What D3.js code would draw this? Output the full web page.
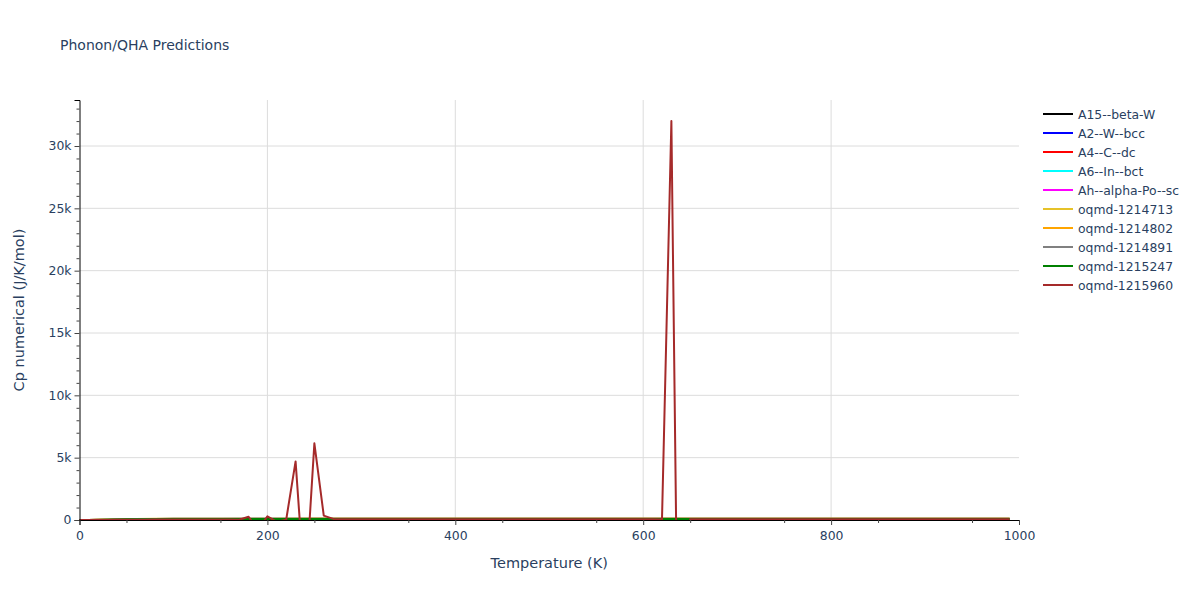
<!DOCTYPE html>
<html>
<head>
<meta charset="utf-8">
<script src="https://cdn.jsdelivr.net/npm/d3@7"></script>
<style>
  body { margin: 0; background: #fff; }
  text { font-family: "DejaVu Sans", verdana, arial, sans-serif; }
</style>
</head>
<body>
<div id="chart"></div>
<script>
// temperatures (K) used by the smooth series
var tempsCoarse = [0, 10, 20, 30, 40, 50, 60, 80, 100, 150, 200, 250, 300, 400, 500, 600, 700, 800, 900, 990];

// temperatures (K) of the noisy oqmd-1215960 series
var tempsFine = [0, 10, 20, 30, 40, 50, 60, 70, 80, 90, 100, 110, 120, 130, 140, 150, 160, 170, 180, 190,
  200, 210, 220, 230, 240, 250, 260, 270, 280, 290, 300, 310, 320, 330, 340, 350, 360, 370, 380, 390,
  400, 410, 420, 430, 440, 450, 460, 470, 480, 490, 500, 510, 520, 530, 540, 550, 560, 570, 580, 590,
  600, 610, 620, 630, 640, 650, 660, 670, 680, 690, 700, 710, 720, 730, 740, 750, 760, 770, 780, 790,
  800, 810, 820, 830, 840, 850, 860, 870, 880, 890, 900, 910, 920, 930, 940, 950, 960, 970, 980, 990];

var seriesNames = ["A15--beta-W", "A2--W--bcc", "A4--C--dc", "A6--In--bct", "Ah--alpha-Po--sc",
  "oqmd-1214713", "oqmd-1214802", "oqmd-1214891", "oqmd-1215247", "oqmd-1215960"];
var seriesColors = ["#000000", "#0000ff", "#ff0000", "#00ffff", "#ff00ff",
  "#e6c229", "#ffa500", "#808080", "#008000", "#a52a2a"];

var cpA15 = [0, 2, 12, 30, 50, 66, 78, 90, 96, 100, 101, 102, 102, 103, 103, 103, 104, 104, 104, 104];
var cpA2 = [0, 1, 4, 9, 13, 16, 18, 21, 22, 24, 24.5, 24.8, 25, 25.1, 25.2, 25.2, 25.3, 25.3, 25.3, 25.3];
var cpA4 = [0, 0.1, 0.4, 1, 2, 3.5, 5, 8, 11, 16, 19, 21, 22, 23.5, 24, 24.3, 24.5, 24.6, 24.7, 24.7];
var cpA6 = [0, 1.5, 7, 13, 17, 19.5, 21, 22.5, 23.2, 24, 24.4, 24.6, 24.7, 24.8, 24.9, 24.9, 25, 25, 25, 25];
var cpAh = [0, 1.2, 5, 10, 14, 17, 19, 21.5, 22.6, 23.8, 24.3, 24.5, 24.6, 24.8, 24.8, 24.9, 24.9, 25, 25, 25];
var cp1214713 = [0, 3, 18, 42, 62, 76, 84, 92, 96, 99, 100, 101, 101, 102, 102, 102, 102, 103, 103, 103];
var cp1214802 = [0, 2, 14, 34, 52, 64, 72, 80, 84, 88, 90, 91, 91, 92, 92, 92, 93, 93, 93, 93];
var cp1214891 = [0, 2, 15, 35, 54, 66, 74, 82, 86, 89, 91, 92, 92, 93, 93, 93, 93, 94, 94, 94];
var cp1215247 = [0, 1, 9, 24, 40, 52, 61, 70, 75, 79, 81, 82, 82, 83, 83, 83, 83, 84, 84, 84];
var cp1215960 = [0, 0.5, 3, 8, 14, 20, 26, 30, 34, 37, 40, 42, 44, 46, 47, 48, 49, 20, 260, -800,
  300, -150, 20, 4700, -6000, 6150, 350, 90, 60, 70, 55, 55, 56, 56, 56, 57, 57, 57, 57, 57,
  58, 58, 58, 58, 58, 58, 58, 58, 59, 59, 59, 59, 59, 59, 59, 59, 59, 59, 59, 60,
  60, 60, 40, 32000, -32000, 60, 60, 60, 60, 60, 60, 60, 60, 60, 60, 60, 60, 60, 60, 60,
  60, 60, 60, 60, 60, 60, 60, 60, 60, 60, 60, 60, 60, 60, 60, 60, 60, 60, 60, 60];

var seriesValues = [cpA15, cpA2, cpA4, cpA6, cpAh, cp1214713, cp1214802, cp1214891, cp1215247, cp1215960];

var xTicks = [0, 200, 400, 600, 800, 1000];
var yTicks = [0, 5000, 10000, 15000, 20000, 25000, 30000];

var svg = d3.select("#chart")
            .append("svg")
            .attr("width", 1200)
            .attr("height", 600);

var margin = {top: 100, right: 181, bottom: 80, left: 79.5},
  width = 1200 - margin.left - margin.right,
  height = 600 - margin.top - margin.bottom,
  g = svg.append("g").attr("transform", "translate(" + margin.left + "," + margin.top + ")");

var x = d3.scaleLinear().domain([0, 1000]).range([0, width]);
var y = d3.scaleLinear().domain([0, 33690]).range([height, 0]);
var textColor = "#2a3f5f";

// gridlines
g.selectAll(".xgrid")
 .data(xTicks.filter(function(d) { return d > 0 && d < 1000; }))
 .enter()
 .append("line")
 .attr("x1", function(d) { return x(d); })
 .attr("x2", function(d) { return x(d); })
 .attr("y1", 0)
 .attr("y2", height)
 .attr("stroke", "#dcdcdc")
 .attr("stroke-width", 1);
g.selectAll(".ygrid")
 .data(yTicks.filter(function(d) { return d > 0; }))
 .enter()
 .append("line")
 .attr("x1", 0)
 .attr("x2", width)
 .attr("y1", function(d) { return y(d); })
 .attr("y2", function(d) { return y(d); })
 .attr("stroke", "#dcdcdc")
 .attr("stroke-width", 1);

// lines, clipped to plot area
svg.append("clipPath").attr("id", "clip")
   .append("rect").attr("width", width).attr("height", height);

var line = d3.line()
  .x(function(d) { return x(d[0]); })
  .y(function(d) { return y(d[1]); });

var lines = g.append("g").attr("clip-path", "url(#clip)");
seriesValues.forEach(function(vals, i) {
  var temps = vals.length === tempsFine.length ? tempsFine : tempsCoarse;
  lines.append("path")
       .datum(temps.map(function(t, j) { return [t, vals[j]]; }))
       .attr("fill", "none")
       .attr("stroke", seriesColors[i])
       .attr("stroke-width", 2)
       .attr("stroke-linejoin", "round")
       .attr("d", line);
});

// axes
var xAxis = g.append("g")
  .attr("transform", "translate(0," + height + ")")
  .call(d3.axisBottom(x).tickValues(xTicks).tickSize(5).tickPadding(6).tickFormat(d3.format("d")));
var xMinor = g.append("g")
  .attr("transform", "translate(0," + height + ")")
  .call(d3.axisBottom(x).tickValues(d3.range(50, 1000, 100)).tickSize(3).tickFormat(""));
var yAxis = g.append("g")
  .call(d3.axisLeft(y).tickValues(yTicks).tickSize(5).tickPadding(3)
    .tickFormat(function(d) { return d === 0 ? "0" : (d / 1000) + "k"; }));
var yMinor = g.append("g")
  .call(d3.axisLeft(y).tickValues(d3.range(1000, 34000, 1000).filter(function(d) { return d % 5000 !== 0; }))
    .tickSize(3).tickFormat(""));

[xAxis, xMinor, yAxis, yMinor].forEach(function(a) {
  a.select(".domain").attr("stroke", "#000").attr("stroke-width", 1);
  a.selectAll(".tick line").attr("stroke", "#444");
  a.selectAll(".tick text").attr("fill", textColor).style("font-size", "12.4px")
   .style("font-family", "\"DejaVu Sans\", verdana, arial, sans-serif");
});
yMinor.select(".domain").remove();
xMinor.select(".domain").remove();

// titles
svg.append("text")
   .attr("x", 60).attr("y", 50)
   .attr("fill", textColor)
   .style("font-size", "14px")
   .text("Phonon/QHA Predictions");

svg.append("text")
   .attr("x", margin.left + width / 2).attr("y", 568)
   .attr("text-anchor", "middle")
   .attr("fill", textColor)
   .style("font-size", "14.5px")
   .text("Temperature (K)");

svg.append("text")
   .attr("transform", "translate(24," + (margin.top + height / 2) + ") rotate(-90)")
   .attr("text-anchor", "middle")
   .attr("fill", textColor)
   .style("font-size", "14.5px")
   .text("Cp numerical (J/K/mol)");

// legend
var legend = svg.append("g").attr("transform", "translate(1043,114)");
seriesNames.forEach(function(name, i) {
  var row = legend.append("g").attr("transform", "translate(0," + (i * 19) + ")");
  row.append("line")
     .attr("x1", 0).attr("x2", 30)
     .attr("stroke", seriesColors[i])
     .attr("stroke-width", 2);
  row.append("text")
     .attr("x", 35).attr("y", 4.5)
     .attr("fill", textColor)
     .style("font-size", "12.4px")
     .text(name);
});
</script>
</body>
</html>
